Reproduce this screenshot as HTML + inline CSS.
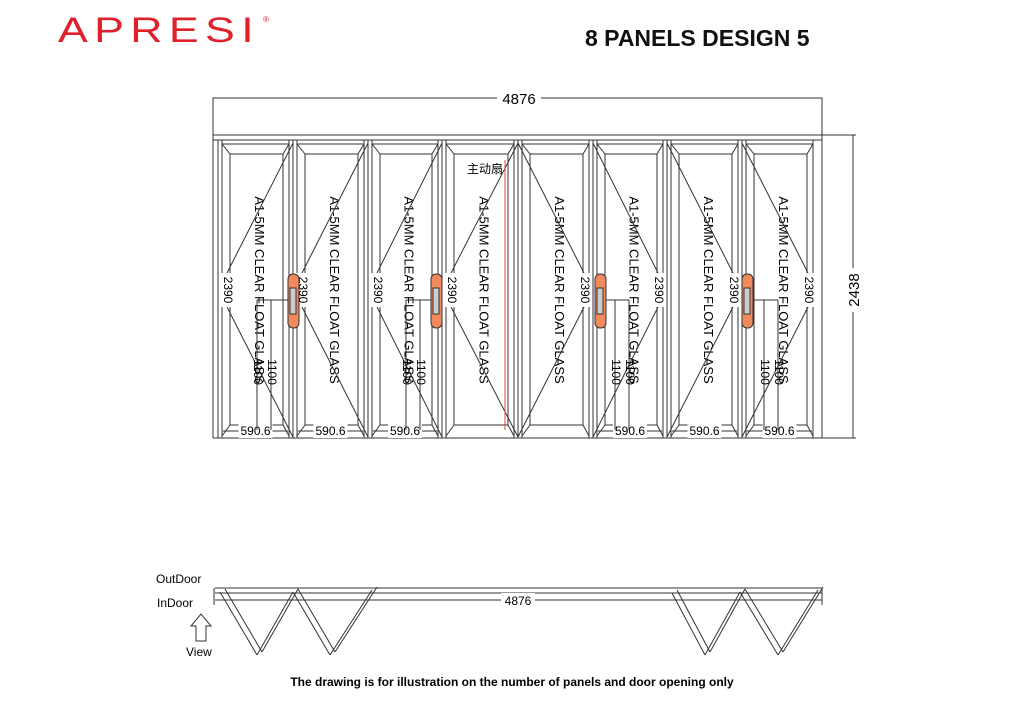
<!DOCTYPE html><html><head><meta charset="utf-8"><style>
body{margin:0;background:#fff}
svg{display:block}
text{font-family:"Liberation Sans","Noto Sans CJK SC",sans-serif}
</style></head><body>
<svg id="s" width="1024" height="724" viewBox="0 0 1024 724" xmlns="http://www.w3.org/2000/svg">
<text x="58" y="42" font-size="35" fill="#e0202a" letter-spacing="5" textLength="202" lengthAdjust="spacingAndGlyphs">APRESI</text>
<text x="263" y="22" font-size="8" fill="#e0202a">®</text>
<text x="585" y="46" font-size="23" font-weight="bold" fill="#111">8 PANELS DESIGN 5</text>
<g stroke="#333" stroke-width="1" fill="none">
<rect x="213" y="98" width="609" height="37"/>
<line x1="213" y1="140" x2="822" y2="140"/>
<line x1="213" y1="135" x2="213" y2="438"/>
<line x1="822" y1="135" x2="822" y2="438"/>
<line x1="213" y1="438" x2="822" y2="438"/>
<line x1="822" y1="135" x2="856" y2="135"/>
<line x1="822" y1="438" x2="856" y2="438"/>
<line x1="853" y1="135" x2="853" y2="438"/>
</g>
<rect x="497" y="90" width="44" height="16" fill="#fff"/>
<text x="519" y="104" font-size="15" text-anchor="middle">4876</text>
<rect x="845" y="268" width="16" height="44" fill="#fff"/>
<text transform="translate(859,290) rotate(-90)" font-size="15" text-anchor="middle">2438</text>
<g id="p"></g>
<line x1="505" y1="160" x2="505" y2="430" stroke="#d44" stroke-width="1"/>
<text x="467" y="173" font-size="12">主动扇</text>
<g stroke="#333" stroke-width="1" fill="none">
<line x1="215" y1="588" x2="822" y2="588"/>
<line x1="215" y1="593" x2="822" y2="593"/>
<line x1="215" y1="600" x2="822" y2="600"/>
<line x1="214" y1="588" x2="214" y2="605"/>
<line x1="822" y1="588" x2="822" y2="605"/>
<g id="z"></g>
<path d="M196 641 V626 H191 L201 614 L211 626 H206 V641 Z"/>
</g>
<rect x="501" y="593" width="34" height="14" fill="#fff"/>
<text x="518" y="605" font-size="12" text-anchor="middle">4876</text>
<text x="156" y="583" font-size="12">OutDoor</text>
<text x="157" y="607" font-size="12">InDoor</text>
<text x="186" y="656" font-size="12">View</text>
<text x="512" y="686" font-size="12" font-weight="bold" text-anchor="middle">The drawing is for illustration on the number of panels and door opening only</text>
</svg>
<script>
var X=[218,293,368,442,518,593,667,742,817],h='',ns='';
function L(a,b,c,d,col){h+='<line x1="'+a+'" y1="'+b+'" x2="'+c+'" y2="'+d+'" stroke="'+(col||'#333')+'" stroke-width="1"/>';}
function T(x,y,s,rot,fs){h+='<text transform="translate('+x+','+y+') rotate('+rot+')" font-size="'+(fs||12)+'" text-anchor="middle" dominant-baseline="middle">'+s+'</text>';}
for(var i=0;i<8;i++){var a=X[i],b=X[i+1];
L(a,140,a,438);L(a+4,140,a+4,438);L(b-4,140,b-4,438);
var gx=a+12,gX=b-10,gy=154,gY=425;
h+='<rect x="'+gx+'" y="'+gy+'" width="'+(gX-gx)+'" height="'+(gY-gy)+'" fill="none" stroke="#333"/>';
L(a+4,144,gx,gy);L(b-4,144,gX,gy);L(a+4,436,gx,gY);L(b-4,436,gX,gY);L(a+4,144,b-4,144);
T((a+b)/2+3,290,'A1-5MM CLEAR FLOAT GLASS',90,13);
var ax=i<4?a+9:b-9,ex=i<4?b:a;
L(ex,143,ax,273);L(ax,307,ex,437);
h+='<rect x="'+(ax-7)+'" y="273" width="14" height="34" fill="#fff"/>';T(ax,290,'2390',90,12);
if(i!=3&&i!=4){L(a+5,431,b-5,431);h+='<rect x="'+((a+b)/2-17)+'" y="424" width="34" height="14" fill="#fff"/>';T((a+b)/2,432,'590.6',0,12);}
if(i==0||i==2||i==5||i==7){var v1=i<4?b-36:a+22,v2=i<4?b-22:a+36,hx=i<4?b-3:a+3;
L(hx,300,i<4?v1:v2,300);L(v1,300,v1,430);L(v2,300,v2,430);
T(v1,372,'1100',90,12);T(v2,372,'1100',90,12);}
}
[293,436,600,747].forEach(function(x){h+='<rect x="'+(x-5)+'" y="274" width="11" height="54" rx="5" fill="#f08a5d" stroke="#333"/><rect x="'+(x-3)+'" y="288" width="6" height="26" fill="#ccc" stroke="#333"/>';});
document.getElementById('p').innerHTML=h;
function Z(pts){var s='';for(var k=0;k<pts.length-1;k++){var p=pts[k],q=pts[k+1];
s+='<line x1="'+p[0]+'" y1="'+p[1]+'" x2="'+q[0]+'" y2="'+q[1]+'"/><line x1="'+(p[0]+5)+'" y1="'+(p[1]-3)+'" x2="'+(q[0]+5)+'" y2="'+(q[1]-3)+'"/>';}
return s;}
ns=Z([[220,592],[257,655],[293,592],[330,655],[372,590]])+Z([[672,593],[705,655],[740,592],[778,655],[818,590]]);
document.getElementById('z').innerHTML=ns;
</script>
</body></html>
